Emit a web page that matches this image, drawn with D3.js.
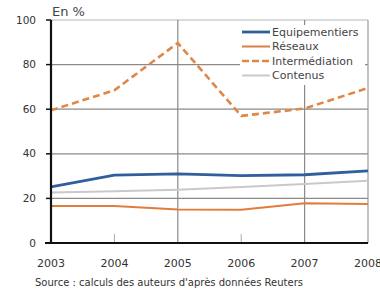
<!DOCTYPE html>
<html>
<head>
<meta charset="utf-8">
<script src="https://cdn.jsdelivr.net/npm/d3@7"></script>
<style>
  body { margin: 0; background: #fff; }
  svg { display: block; font-family: "DejaVu Sans", sans-serif; }
</style>
</head>
<body>
<script>
const years = [2003, 2004, 2005, 2006, 2007, 2008];
const equipementiers = [25.2, 30.4, 31, 30.2, 30.6, 32.3];
const reseaux = [16.6, 16.6, 15, 14.9, 17.8, 17.5];
const intermediation = [59.5, 68.5, 89.7, 57, 60.3, 69.5];
const contenus = [22.6, 23.2, 23.9, 25.1, 26.5, 27.9];
const yTicks = [0, 20, 40, 60, 80, 100];

const series = [
    { name: "Equipementiers", values: equipementiers, color: "#2f5f9c", width: 2.8, dash: null },
    { name: "Réseaux", values: reseaux, color: "#e07d3c", width: 2, dash: null },
    { name: "Intermédiation", values: intermediation, color: "#e08748", width: 2.6, dash: "7,4" },
    { name: "Contenus", values: contenus, color: "#c9c9c9", width: 2, dash: null }
];

const width = 380, height = 294;
const margin = { top: 20, right: 12, bottom: 51, left: 51 };

const svg = d3.select("body").append("svg")
    .attr("width", width)
    .attr("height", height);

const x = d3.scaleLinear()
    .domain([2003, 2008])
    .range([margin.left, width - margin.right]);

const y = d3.scaleLinear()
    .domain([0, 100])
    .range([height - margin.bottom, margin.top]);

// horizontal grid
svg.append("g")
    .selectAll("line")
    .data(yTicks.filter(d => d > 0))
    .join("line")
    .attr("x1", x(2003)).attr("x2", x(2008))
    .attr("y1", d => y(d)).attr("y2", d => y(d))
    .attr("stroke", d => d === 100 ? "#b5b5b5" : "#8a8a8a")
    .attr("stroke-width", 1.2);

// vertical grid lines (2005, 2007, right border)
svg.append("g")
    .selectAll("line")
    .data([2005, 2007, 2008])
    .join("line")
    .attr("x1", d => x(d)).attr("x2", d => x(d))
    .attr("y1", y(100)).attr("y2", y(0))
    .attr("stroke", d => d === 2008 ? "#9a9a9a" : "#8a8a8a")
    .attr("stroke-width", 1.2);

// short ticks at 2004, 2006
svg.append("g")
    .selectAll("line")
    .data([2004, 2006])
    .join("line")
    .attr("x1", d => x(d)).attr("x2", d => x(d))
    .attr("y1", y(0) - 9).attr("y2", y(0))
    .attr("stroke", "#aaa")
    .attr("stroke-width", 1);

// legend background covers grid
const legend = svg.append("g").attr("transform", "translate(240,25)");
legend.append("rect")
    .attr("x", 0).attr("y", 0)
    .attr("width", 125).attr("height", 60)
    .attr("fill", "#fff");

// series lines
const line = d3.line()
    .x((d, i) => x(years[i]))
    .y(d => y(d));

svg.append("g")
    .selectAll("path")
    .data([series[3], series[1], series[0], series[2]])
    .join("path")
    .attr("fill", "none")
    .attr("stroke", d => d.color)
    .attr("stroke-width", d => d.width)
    .attr("stroke-linejoin", "round")
    .attr("stroke-dasharray", d => d.dash)
    .attr("d", d => line(d.values));

// axes
svg.append("line")
    .attr("x1", x(2003)).attr("x2", x(2003))
    .attr("y1", y(100)).attr("y2", y(0) + 1)
    .attr("stroke", "#111").attr("stroke-width", 2.2);
svg.append("line")
    .attr("x1", x(2003) - 6).attr("x2", x(2008))
    .attr("y1", y(0)).attr("y2", y(0))
    .attr("stroke", "#111").attr("stroke-width", 2.2);

// y tick marks and labels
svg.append("g")
    .selectAll("line")
    .data(yTicks)
    .join("line")
    .attr("x1", x(2003) - 5).attr("x2", x(2003))
    .attr("y1", d => y(d)).attr("y2", d => y(d))
    .attr("stroke", "#111").attr("stroke-width", 1.5);

svg.append("g")
    .selectAll("text")
    .data(yTicks)
    .join("text")
    .attr("x", x(2003) - 15)
    .attr("y", d => y(d))
    .attr("dy", "0.35em")
    .attr("text-anchor", "end")
    .attr("font-size", 10.5)
    .attr("fill", "#333")
    .text(d => d);

// x labels
svg.append("g")
    .selectAll("text")
    .data(years)
    .join("text")
    .attr("x", d => x(d))
    .attr("y", y(0) + 24)
    .attr("text-anchor", "middle")
    .attr("font-size", 11)
    .attr("fill", "#333")
    .text(d => d);

svg.append("text")
    .attr("x", x(2003) + 1)
    .attr("y", 16)
    .attr("font-size", 13)
    .attr("fill", "#444")
    .text("En %");

svg.append("text")
    .attr("x", 35)
    .attr("y", 286)
    .attr("font-size", 10)
    .attr("fill", "#333")
    .text("Source : calculs des auteurs d'après données Reuters");

// legend entries
const item = legend.selectAll("g")
    .data(series)
    .join("g")
    .attr("transform", (d, i) => `translate(0,${7 + i * 14.5})`);
item.append("line")
    .attr("x1", 2).attr("x2", 30)
    .attr("stroke", d => d.color)
    .attr("stroke-width", d => d.width)
    .attr("stroke-dasharray", d => d.dash ? "7,3" : null);
item.append("text")
    .attr("x", 32)
    .attr("dy", "0.35em")
    .attr("font-size", 11)
    .attr("fill", "#444")
    .text(d => d.name);
</script>
</body>
</html>
